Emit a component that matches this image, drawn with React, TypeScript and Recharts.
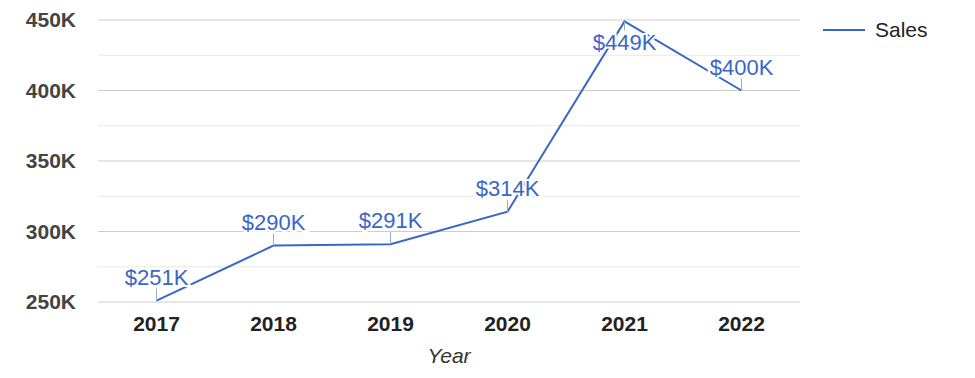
import { LineChart, Line, XAxis, YAxis, CartesianGrid, ReferenceLine, LabelList } from "recharts";

const years = ["2017", "2018", "2019", "2020", "2021", "2022"];
const sales = [251000, 290000, 291000, 314000, 449000, 400000];
const yTicks = [250000, 300000, 350000, 400000, 450000];
const minorTicks = [275000, 325000, 375000, 425000];

const data = years.map((year, i) => ({ year, sales: sales[i] }));

const FONT = "'Liberation Sans', Arial, sans-serif";
const BLUE = "#3a66c8";

const fmtK = (v: number) => `${Math.round(v / 1000)}K`;

function PointLabel(props: any) {
  const { x, y, value } = props;
  const below = y < 45;
  const text = `$${Math.round(value / 1000)}K`;
  return (
    <g>
      <line x1={x} x2={x} y1={y} y2={below ? y + 9 : y - 12} stroke="#9aaad0" strokeWidth={1} />
      <text
        x={x}
        y={below ? y + 29 : y - 16}
        textAnchor="middle"
        fontSize={22}
        fontFamily={FONT}
        fill={BLUE}
        stroke="#fff"
        strokeWidth={4}
        paintOrder="stroke"
      >
        {text}
      </text>
    </g>
  );
}

function SalesLegend() {
  return (
    <svg width={120} height={30} style={{ position: "absolute", left: 823, top: 18 }}>
      <line x1={0} x2={42} y1={12} y2={12} stroke={BLUE} strokeWidth={2} />
      <text x={52} y={19} fontSize={21} fontFamily={FONT} fill="#222">
        Sales
      </text>
    </svg>
  );
}

export default function App() {
  return (
    <div style={{ position: "absolute", left: 0, top: 0, width: 975, height: 378, background: "#fff" }}>
      <LineChart width={975} height={378} data={data} margin={{ top: 20, right: 175, left: 0, bottom: 0 }}>
        <CartesianGrid vertical={false} stroke="#cccccc" />
        {minorTicks.map((t) => (
          <ReferenceLine key={t} y={t} stroke="#e8e8e8" />
        ))}
        <XAxis
          dataKey="year"
          height={76}
          padding={{ left: 58.5, right: 58.5 }}
          axisLine={false}
          tickLine={false}
          tickMargin={8}
          tick={{ fontSize: 21, fontWeight: "bold", fill: "#222", fontFamily: FONT }}
          label={{
            value: "Year",
            position: "insideBottom",
            offset: 15,
            style: { fontSize: 21, fontStyle: "italic", fill: "#333", fontFamily: FONT },
          }}
        />
        <YAxis
          width={98}
          domain={[250000, 450000]}
          ticks={yTicks}
          tickFormatter={fmtK}
          axisLine={false}
          tickLine={false}
          tickMargin={16}
          tick={{ fontSize: 21, fontWeight: "bold", fill: "#444", fontFamily: FONT }}
        />
        <Line
          type="linear"
          dataKey="sales"
          stroke={BLUE}
          strokeWidth={2}
          dot={false}
          activeDot={false}
          isAnimationActive={false}
        >
          <LabelList dataKey="sales" content={<PointLabel />} />
        </Line>
      </LineChart>
      <SalesLegend />
    </div>
  );
}
